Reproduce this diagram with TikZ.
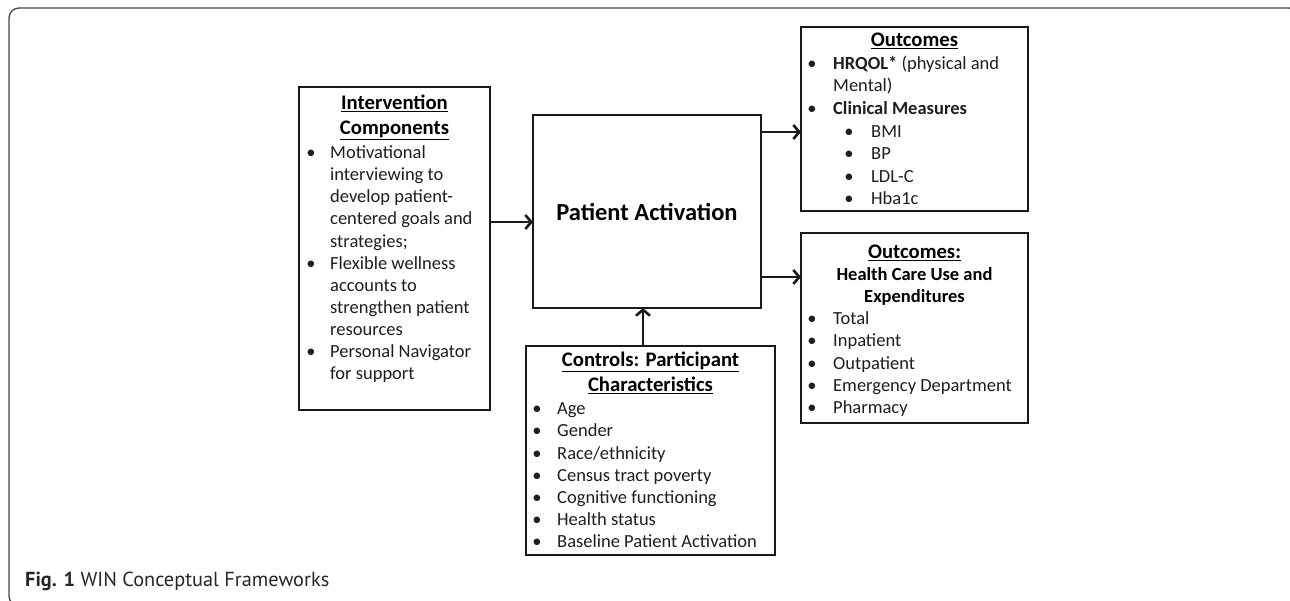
\documentclass[tikz,border=0pt]{standalone}
\usepackage{fontspec}
\setmainfont{Carlito}
\newfontfamily\capfont{PT Sans}
\usetikzlibrary{arrows.meta}
\definecolor{boxc}{RGB}{25,25,25}
\definecolor{textc}{RGB}{30,30,30}
\definecolor{framec}{RGB}{70,70,70}
\tikzset{
  box/.style={draw=boxc, line width=2pt, inner sep=0pt, outer sep=0pt, anchor=north west},
  txt/.style={anchor=mid west, inner sep=0pt, yshift=-4pt, font=\fontsize{18.5}{22}\selectfont, text=textc},
  bul/.style={anchor=mid, inner sep=0pt, yshift=-4pt, font=\fontsize{18.5}{22}\selectfont, text=textc},
  ttl/.style={anchor=mid, inner sep=0pt, yshift=-4pt, font=\fontsize{18.5}{22}\selectfont\bfseries, text=black},
  uttl/.style={anchor=mid, inner sep=0pt, yshift=-4pt, font=\fontsize{20.7}{24}\selectfont\bfseries, text=black},
  arr/.style={-{Straight Barb[length=6pt,width=14pt]}, line width=2.6pt, draw=boxc},
  frame/.style={draw=framec, line width=1.3pt, rounded corners=10pt}
}
\begin{document}
\begin{tikzpicture}[x=1pt,y=-1pt]
\useasboundingbox (0,0) rectangle (1290,601);
\begin{scope}
  \clip (0,0) rectangle (1290,601);
  \draw[frame] (9,8) rectangle (1299,606);
\end{scope}

% boxes
\node[box, minimum width=191pt, minimum height=323pt] (int) at (299,87) {};
\node[box, minimum width=228pt, minimum height=193pt] (pa) at (533,115) {};
\node[box, minimum width=227pt, minimum height=184pt] (out1) at (801,27) {};
\node[box, minimum width=227pt, minimum height=190pt] (out2) at (801,233) {};
\node[box, minimum width=249pt, minimum height=209pt] (ctrl) at (526,346) {};

% Intervention
\node[uttl] (it1) at (394.5,103) {\underline{Intervention}};
\node[uttl] (it2) at (394.5,128) {\underline{Components}};
\node[bul] (ib1) at (311,152) {•};
\node[txt] (il1) at (330,152) {Motivational};
\node[txt] (il2) at (330,174) {interviewing to};
\node[txt] (il3) at (330,196) {develop patient-};
\node[txt] (il4) at (330,218) {centered goals and};
\node[txt] (il5) at (330,241) {strategies;};
\node[bul] (ib2) at (311,263) {•};
\node[txt] (il6) at (330,263) {Flexible wellness};
\node[txt] (il7) at (330,285) {accounts to};
\node[txt] (il8) at (330,307) {strengthen patient};
\node[txt] (il9) at (330,329) {resources};
\node[bul] (ib3) at (311,351) {•};
\node[txt] (il10) at (330,351) {Personal Navigator};
\node[txt] (il11) at (330,373) {for support};

% Patient activation
\node[anchor=mid, inner sep=0pt, font=\fontsize{24.5}{28}\selectfont\bfseries] (pat) at (647,218) {Patient Activation};

% Outcomes 1
\node[uttl] (ot1) at (914.5,40) {\underline{Outcomes}};
\node[bul] (ob1) at (812,63) {•};
\node[txt] (ol1) at (833,63) {\textbf{HRQOL*} (physical and};
\node[txt] (ol2) at (833,85) {Mental)};
\node[bul] (ob2) at (812,108) {•};
\node[txt] (ol3) at (833,108) {\textbf{Clinical Measures}};
\node[bul] (ob3) at (849,131) {•};
\node[txt] (ol4) at (871,131) {BMI};
\node[bul] (ob4) at (849,153) {•};
\node[txt] (ol5) at (871,153) {BP};
\node[bul] (ob5) at (849,176) {•};
\node[txt] (ol6) at (871,176) {LDL-C};
\node[bul] (ob6) at (849,198) {•};
\node[txt] (ol7) at (871,198) {Hba1c};

% Outcomes 2
\node[uttl] (pt1) at (914.5,252) {\underline{Outcomes:}};
\node[ttl] (pt2) at (914.5,274) {Health Care Use and};
\node[ttl] (pt3) at (914.5,296) {Expenditures};
\node[bul] (pb1) at (812,318) {•};
\node[txt] (pl1) at (833,318) {Total};
\node[bul] (pb2) at (812,340) {•};
\node[txt] (pl2) at (833,340) {Inpatient};
\node[bul] (pb3) at (812,363) {•};
\node[txt] (pl3) at (833,363) {Outpatient};
\node[bul] (pb4) at (812,385) {•};
\node[txt] (pl4) at (833,385) {Emergency Department};
\node[bul] (pb5) at (812,407) {•};
\node[txt] (pl5) at (833,407) {Pharmacy};

% Controls
\node[uttl] (ct1) at (650.5,360) {\underline{Controls: Participant}};
\node[uttl] (ct2) at (650.5,385) {\underline{Characteristics}};
\node[bul] (cb1) at (537,408) {•};
\node[txt] (cl1) at (557,408) {Age};
\node[bul] (cb2) at (537,430) {•};
\node[txt] (cl2) at (557,430) {Gender};
\node[bul] (cb3) at (537,453) {•};
\node[txt] (cl3) at (557,453) {Race/ethnicity};
\node[bul] (cb4) at (537,475) {•};
\node[txt] (cl4) at (557,475) {Census tract poverty};
\node[bul] (cb5) at (537,497) {•};
\node[txt] (cl5) at (557,497) {Cognitive functioning};
\node[bul] (cb6) at (537,519) {•};
\node[txt] (cl6) at (557,519) {Health status};
\node[bul] (cb7) at (537,541) {•};
\node[txt] (cl7) at (557,541) {Baseline Patient Activation};

% arrows
\draw[arr] (int.east |- 0,222) -- (pa.west |- 0,222);
\draw[arr] (pa.east |- 0,132) -- (out1.west |- 0,132);
\draw[arr] (pa.east |- 0,277) -- (out2.west |- 0,277);
\draw[arr] (ctrl.north -| 643,0) -- (pa.south -| 643,0);

% caption
\node[anchor=base west, inner sep=0pt, font=\capfont\fontsize{20.3}{24}\selectfont, text=black!85] (cap) at (25,586) {\textbf{Fig. 1} WIN Conceptual Frameworks};
\end{tikzpicture}
\end{document}
